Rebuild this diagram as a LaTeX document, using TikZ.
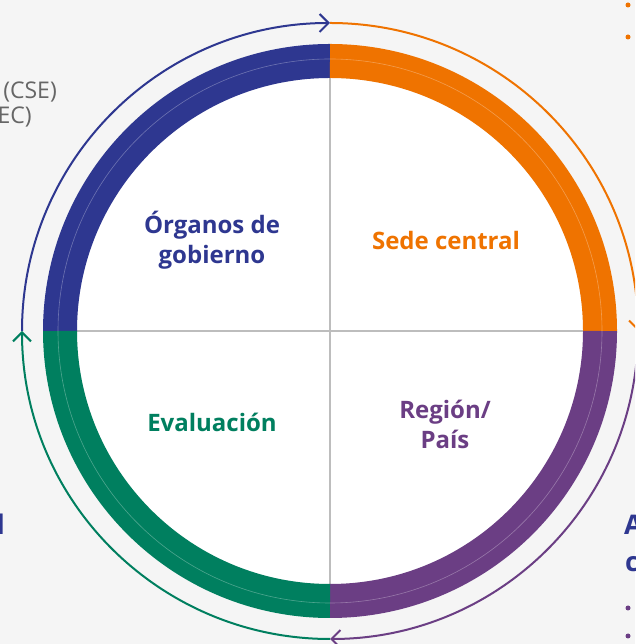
\documentclass[tikz,border=0pt]{standalone}
\usepackage{fontspec}
\setmainfont{Open Sans}
\usepackage{tikz}
\usetikzlibrary{calc,arrows.meta}
\usepackage{xcolor}
\definecolor{gobblue}{HTML}{2E3790}
\definecolor{sedeorange}{HTML}{EF7300}
\definecolor{regpurple}{HTML}{6B3E84}
\definecolor{evalgreen}{HTML}{007F5F}
\definecolor{bggray}{HTML}{F5F5F5}
\definecolor{linegray}{HTML}{BDBDBD}
\definecolor{textgray}{HTML}{666666}

\begin{document}
\begin{tikzpicture}[x=1pt,y=1pt,
		ring/.style={line width=34pt},
		cycle/.style={line width=2pt,-{Straight Barb[length=9pt,width=18pt]}},
		quadtext/.style={font=\fontsize{24}{30}\selectfont\bfseries,align=center},
		side/.style={font=\fontsize{23}{27}\selectfont,text=textgray,inner sep=0pt},
		bullet/.style={circle,inner sep=0pt,minimum size=5pt}]
		\useasboundingbox (0,0) rectangle (635,644);
		\fill[bggray] (0,0) rectangle (635,644);
		\clip (0,0) rectangle (635,644);
		\coordinate (c) at (330,313);
		\fill[white] (c) circle[radius=253pt];
		\draw[linegray,line width=1.5pt] ($(c)+(0,253pt)$) -- ($(c)+(0,-253pt)$);
		\draw[linegray,line width=1.5pt] ($(c)+(-253pt,0)$) -- ($(c)+(253pt,0)$);
		\draw[ring,gobblue] ($(c)+(180:270pt)$) arc[start angle=180,end angle=90,radius=270pt];
		\draw[ring,sedeorange] ($(c)+(90:270pt)$) arc[start angle=90,end angle=0,radius=270pt];
		\draw[ring,regpurple] ($(c)+(0:270pt)$) arc[start angle=0,end angle=-90,radius=270pt];
		\draw[ring,evalgreen] ($(c)+(-90:270pt)$) arc[start angle=-90,end angle=-180,radius=270pt];
		\draw[white,opacity=0.3,line width=0.6pt] (c) circle[radius=272pt];
		\draw[cycle,gobblue] ($(c)+(180:308pt)$) arc[start angle=180,end angle=90,radius=308pt];
		\draw[cycle,sedeorange] ($(c)+(90:308pt)$) arc[start angle=90,end angle=0,radius=308pt];
		\draw[cycle,regpurple] ($(c)+(0:308pt)$) arc[start angle=0,end angle=-90,radius=308pt];
		\draw[cycle,evalgreen] ($(c)+(-90:308pt)$) arc[start angle=-90,end angle=-180,radius=308pt];
		\node[quadtext,text=gobblue] (organos) at (212,404) {Órganos de\\gobierno};
		\node[quadtext,text=sedeorange] (sede) at (446,403) {Sede central};
		\node[quadtext,text=evalgreen] (evaluacion) at (212,222) {Evaluación};
		\node[quadtext,text=regpurple] (region) at (445,220) {Región/\\País};
		\node[side,anchor=east] (cse) at (57,551.5) {(CSE)};
		\node[side,anchor=east] (ec) at (32,526.5) {EC)};
		\node[bullet,fill=sedeorange] (sedeuno) at (628,639) {};
		\node[bullet,fill=sedeorange] (sededos) at (628,607) {};
		\node[bullet,fill=regpurple] (regionuno) at (628,36) {};
		\node[bullet,fill=regpurple] (regiondos) at (628,8) {};
		\node[font=\fontsize{27}{32}\selectfont\bfseries,text=gobblue,anchor=base west,inner sep=0pt] (letraa) at (624,109) {A};
		\node[font=\fontsize{27}{32}\selectfont\bfseries,text=gobblue,anchor=base west,inner sep=0pt] (letrac) at (625,72) {c};
		\node[font=\fontsize{27}{32}\selectfont\bfseries,text=gobblue,anchor=base east,inner sep=0pt] (letral) at (5,109) {l};
	\end{tikzpicture}
\end{document}
